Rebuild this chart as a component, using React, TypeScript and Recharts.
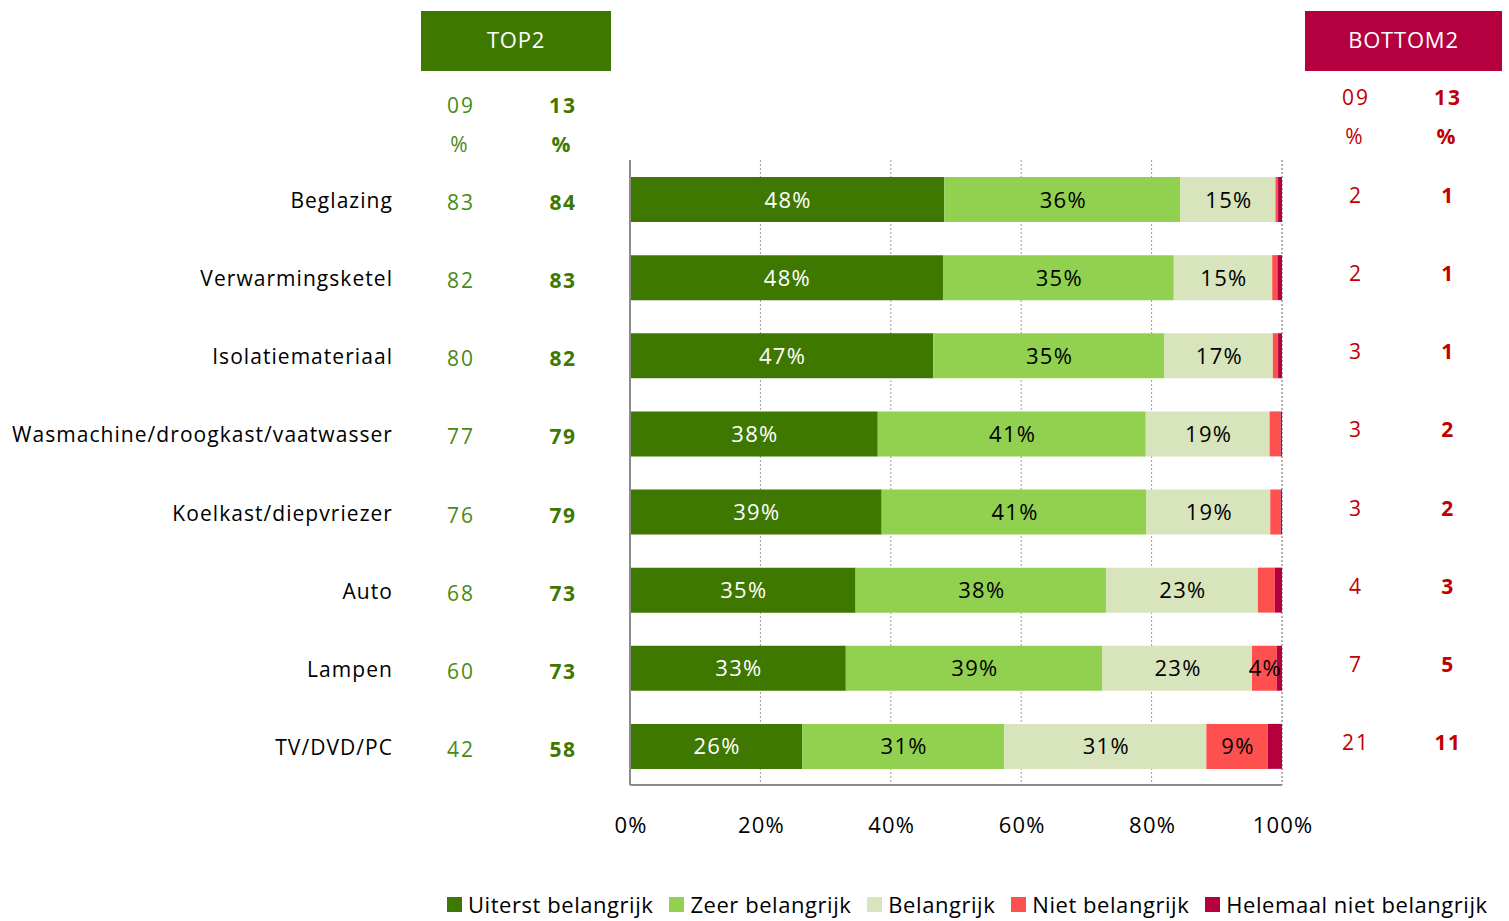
import React from "react";
import { BarChart, Bar, XAxis, YAxis, CartesianGrid, LabelList } from "recharts";

const categories = ["Beglazing", "Verwarmingsketel", "Isolatiemateriaal", "Wasmachine/droogkast/vaatwasser", "Koelkast/diepvriezer", "Auto", "Lampen", "TV/DVD/PC"];
const uiterst = [48.2, 48.0, 46.5, 38.0, 38.6, 34.6, 33.1, 26.4];
const zeer = [36.2, 35.4, 35.4, 41.1, 40.6, 38.4, 39.3, 31.0];
const belangrijk = [14.6, 15.1, 16.7, 19.0, 19.0, 23.3, 23.0, 31.0];
const niet = [0.4, 0.8, 0.8, 1.7, 1.6, 2.6, 3.8, 9.4];
const helemaal = [0.6, 0.7, 0.6, 0.2, 0.2, 1.1, 0.8, 2.2];
const top2_09 = [83, 82, 80, 77, 76, 68, 60, 42];
const top2_13 = [84, 83, 82, 79, 79, 73, 73, 58];
const bottom2_09 = [2, 2, 3, 3, 3, 4, 7, 21];
const bottom2_13 = [1, 1, 1, 2, 2, 3, 5, 11];
const xTicks = [0, 20, 40, 60, 80, 100];

const series = [
  { key: "uiterst", name: "Uiterst belangrijk", color: "#3f7800", text: "#ffffff" },
  { key: "zeer", name: "Zeer belangrijk", color: "#92d050", text: "#000000" },
  { key: "belangrijk", name: "Belangrijk", color: "#d8e4bc", text: "#000000" },
  { key: "niet", name: "Niet belangrijk", color: "#ff5050", text: "#000000" },
  { key: "helemaal", name: "Helemaal niet belangrijk", color: "#b5003f", text: "#ffffff" },
];

const data = categories.map((name, i) => ({
  name,
  uiterst: uiterst[i],
  zeer: zeer[i],
  belangrijk: belangrijk[i],
  niet: niet[i],
  helemaal: helemaal[i],
  t09: top2_09[i],
  t13: top2_13[i],
  b09: bottom2_09[i],
  b13: bottom2_13[i],
}));

const FONT = "'Open Sans', sans-serif";
const GREEN_TXT = "#4a8a14";
const GREEN_BOLD = "#3f7800";
const RED_TXT = "#c00000";

const LeftTick = (props: any) => {
  const { y, payload, index } = props;
  const d = data[index] || data.find((r) => r.name === payload.value);
  return (
    <g>
      <text x={393} y={y + 9} textAnchor="end" fontFamily={FONT} fontSize={21} letterSpacing={1.05} fill="#000">
        {payload.value}
      </text>
      <text x={461} y={y + 11} textAnchor="middle" fontFamily={FONT} fontSize={21} letterSpacing={2} fill={GREEN_TXT}>
        {d ? d.t09 : ""}
      </text>
      <text x={563} y={y + 11} textAnchor="middle" fontFamily={FONT} fontSize={21} letterSpacing={1.5} fontWeight="bold" fill={GREEN_BOLD}>
        {d ? d.t13 : ""}
      </text>
    </g>
  );
};

const RightTick = (props: any) => {
  const { y, payload, index } = props;
  const d = data[index] || data.find((r) => r.name === payload.value);
  return (
    <g>
      <text x={1356} y={y + 4} textAnchor="middle" fontFamily={FONT} fontSize={21} letterSpacing={2} fill={RED_TXT}>
        {d ? d.b09 : ""}
      </text>
      <text x={1448} y={y + 4} textAnchor="middle" fontFamily={FONT} fontSize={21} letterSpacing={1.5} fontWeight="bold" fill={RED_TXT}>
        {d ? d.b13 : ""}
      </text>
    </g>
  );
};

const makeLabel = (textColor: string) => (props: any) => {
  const { x, y, width, height, value } = props;
  if (value == null || value < 3.5) return null;
  return (
    <text
      x={x + width / 2 + 1}
      y={y + height / 2 + 8}
      textAnchor="middle"
      fontFamily={FONT}
      fontSize={22}
      letterSpacing={1.3}
      fill={textColor}
    >
      {Math.round(value) + "%"}
    </text>
  );
};

const XTick = (props: any) => {
  const { x, payload } = props;
  return (
    <text x={x + 1} y={833} textAnchor="middle" fontFamily={FONT} fontSize={22} letterSpacing={1.2} fill="#000">
      {payload.value + "%"}
    </text>
  );
};

export default function App() {
  return (
    <div style={{ position: "absolute", left: 0, top: 0, width: 1509, height: 921, background: "#fff" }}>
      <div style={{ position: "absolute", left: 421, top: 11, width: 190, height: 60, background: "#3f7800", color: "#fff", fontFamily: FONT, fontSize: 22, letterSpacing: 0.8, display: "flex", alignItems: "center", justifyContent: "center", boxSizing: "border-box", paddingBottom: 4 }}>TOP2</div>
      <div style={{ position: "absolute", left: 1305, top: 11, width: 197, height: 60, background: "#b5003f", color: "#fff", fontFamily: FONT, fontSize: 22, letterSpacing: 0.8, display: "flex", alignItems: "center", justifyContent: "center", boxSizing: "border-box", paddingBottom: 4 }}>BOTTOM2</div>
      <svg width={1509} height={921} style={{ position: "absolute", left: 0, top: 0, pointerEvents: "none" }}>
        <g fontFamily={FONT} fontSize={21} textAnchor="middle" letterSpacing={2}>
          <text x={461} y={113} fill={GREEN_TXT}>09</text>
          <text x={460} y={152} fill={GREEN_TXT}>%</text>
          <text x={563} y={113} fill={GREEN_BOLD} fontWeight="bold">13</text>
          <text x={562} y={152} fill={GREEN_BOLD} fontWeight="bold">%</text>
          <text x={1356} y={105} fill={RED_TXT}>09</text>
          <text x={1355} y={144} fill={RED_TXT}>%</text>
          <text x={1448} y={105} fill={RED_TXT} fontWeight="bold">13</text>
          <text x={1447} y={144} fill={RED_TXT} fontWeight="bold">%</text>
        </g>
      </svg>
      <div style={{ position: "absolute", left: 0, top: 0 }}>
        <BarChart
          width={1509}
          height={921}
          data={data}
          layout="vertical"
          margin={{ top: 160, right: 0, bottom: 76, left: 0 }}
        >
          <CartesianGrid horizontal={false} vertical={true} stroke="#9a9a9a" strokeDasharray="2 2" />
          <XAxis
            type="number"
            domain={[0, 100]}
            ticks={xTicks}
            axisLine={{ stroke: "#8c8c8c", strokeWidth: 2 }}
            tickLine={false}
            tick={<XTick />}
            height={60}
            interval={0}
          />
          <YAxis
            yAxisId="left"
            type="category"
            dataKey="name"
            width={630}
            axisLine={{ stroke: "#8c8c8c", strokeWidth: 2 }}
            tickLine={false}
            tick={<LeftTick />}
            interval={0}
          />
          <YAxis
            yAxisId="right"
            orientation="right"
            type="category"
            dataKey="name"
            width={227}
            axisLine={false}
            tickLine={false}
            tick={<RightTick />}
            interval={0}
          />
          {series.map((s) => (
            <Bar
              key={s.key}
              dataKey={s.key}
              name={s.name}
              stackId="a"
              yAxisId="left"
              fill={s.color}
              barSize={45}
              isAnimationActive={false}
            >
              <LabelList dataKey={s.key} content={makeLabel(s.key === "helemaal" ? "#ffffff" : s.text)} />
            </Bar>
          ))}
        </BarChart>
      </div>
      <div style={{ position: "absolute", left: 447, top: 889, display: "flex", alignItems: "center", fontFamily: FONT, fontSize: 22, letterSpacing: 0.55, color: "#000", whiteSpace: "nowrap" }}>
        {series.map((s) => (
          <div key={s.key} style={{ display: "flex", alignItems: "center", marginRight: 16 }}>
            <span style={{ display: "inline-block", width: 15, height: 15, background: s.color, marginRight: 6 }} />
            <span>{s.name}</span>
          </div>
        ))}
      </div>
    </div>
  );
}
